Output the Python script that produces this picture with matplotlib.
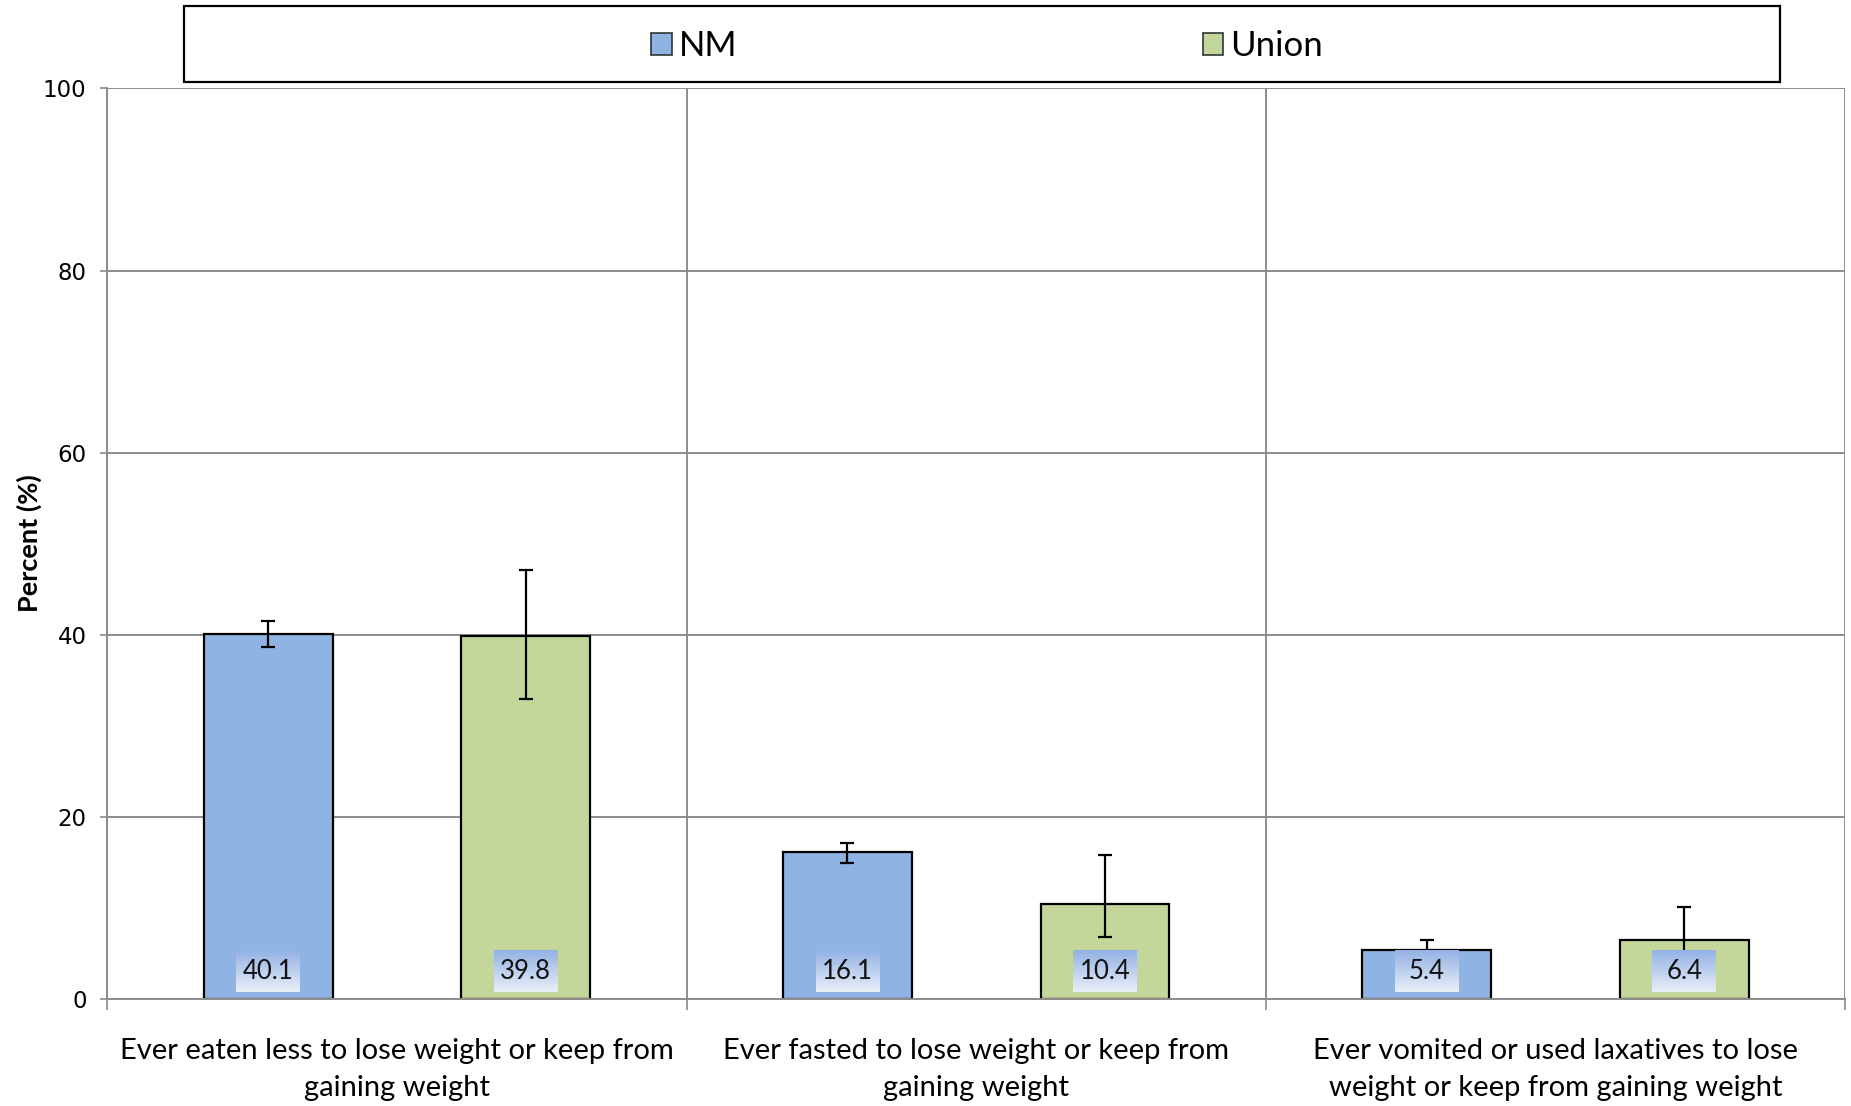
import numpy as np
import matplotlib
matplotlib.use("Agg")
import matplotlib.pyplot as plt
from matplotlib.colors import LinearSegmentedColormap
from matplotlib.patches import Rectangle, Patch

categories = [
    "Ever eaten less to lose weight or keep from\ngaining weight",
    "Ever fasted to lose weight or keep from\ngaining weight",
    "Ever vomited or used laxatives to lose\nweight or keep from gaining weight",
]
series = ["NM", "Union"]
nm_values = [40.1, 16.1, 5.4]
union_values = [39.8, 10.4, 6.4]
nm_ci_low = [38.6, 14.9, 4.5]
nm_ci_high = [41.5, 17.1, 6.4]
union_ci_low = [32.9, 6.8, 3.7]
union_ci_high = [47.1, 15.8, 10.1]
y_ticks = [0, 20, 40, 60, 80, 100]

NM_COLOR = "#8fb3e2"
UNION_COLOR = "#c4d79b"
GRID_COLOR = "#8c8c8c"
TEXT_FONT = ["Lato", "DejaVu Sans"]

fig = plt.figure(figsize=(18.51, 11.06), dpi=100)
ax = fig.add_axes([0.058, 0.097, 0.9388, 0.823])

x = np.arange(len(categories))
width = 0.2224

# label box gradient: light at the bottom, blue at the top
label_cmap = LinearSegmentedColormap.from_list("lbl", ["#e9eef8", "#93b2e4"])
gradient = np.linspace(0, 1, 64).reshape(-1, 1)

for offset, values, lo, hi, color in [
    (-width, nm_values, nm_ci_low, nm_ci_high, NM_COLOR),
    (width, union_values, union_ci_low, union_ci_high, UNION_COLOR),
]:
    xs = x + offset
    vals = np.array(values)
    yerr = [vals - np.array(lo), np.array(hi) - vals]
    ax.bar(xs, vals, width=width, color=color, edgecolor="black",
           linewidth=1.6, zorder=2)
    ax.errorbar(xs, vals, yerr=yerr, fmt="none", ecolor="black",
                elinewidth=1.6, capsize=5, capthick=1.6, zorder=3)
    for xi, v in zip(xs, vals):
        ax.imshow(gradient, extent=(xi - 0.055, xi + 0.055, 0.75, 5.3),
                  origin="lower", aspect="auto", cmap=label_cmap, zorder=4)
        ax.text(xi, 3.0, f"{v:.1f}", ha="center", va="center",
                fontsize=18.5, family=TEXT_FONT, color="#111111", zorder=5)

ax.set_xlim(-0.5, 2.5)
ax.set_ylim(0, 100)

# y axis
ax.set_yticks(y_ticks)
ax.tick_params(axis="y", direction="out", length=5, width=1.2,
               color=GRID_COLOR, labelsize=16.5, pad=10)
ax.yaxis.grid(True, color=GRID_COLOR, linewidth=1.4, zorder=0)

# x axis: ticks/grid on category boundaries, labels at centers
ax.set_xticks([-0.5, 0.5, 1.5, 2.5])
ax.set_xticklabels([])
ax.set_xticks(x, minor=True)
ax.set_xticklabels(categories, minor=True, fontsize=21, family=TEXT_FONT,
                   linespacing=1.55)
ax.tick_params(axis="x", which="major", direction="out", length=8,
               width=1.2, color=GRID_COLOR)
ax.tick_params(axis="x", which="minor", length=0, pad=28)
ax.xaxis.grid(True, which="major", color=GRID_COLOR, linewidth=1.4, zorder=0)
ax.set_axisbelow(True)

for side in ["top", "right"]:
    ax.spines[side].set_visible(False)
for side in ["left", "bottom"]:
    ax.spines[side].set_color(GRID_COLOR)
    ax.spines[side].set_linewidth(1.4)

ax.set_ylabel("Percent (%)", fontsize=19.5, fontweight="bold",
              family=TEXT_FONT, labelpad=1)

# legend with its own frame
fig.patches.append(Rectangle((184 / 1851, 1 - 81.5 / 1106),
                             (1780 - 184) / 1851, 75.5 / 1106,
                             transform=fig.transFigure, fill=False,
                             edgecolor="black", linewidth=1.6))
handles = [Patch(facecolor=NM_COLOR, edgecolor="#333333", linewidth=1.2),
           Patch(facecolor=UNION_COLOR, edgecolor="#333333", linewidth=1.2)]
fig.legend(handles, series, loc="center",
           bbox_to_anchor=(987 / 1851, 1 - 46.5 / 1106), ncol=2,
           frameon=False, prop={"family": TEXT_FONT, "size": 25},
           handlelength=0.6, handleheight=0.6, handletextpad=0.2,
           columnspacing=13.4)

fig.savefig("out.png", dpi=100)
